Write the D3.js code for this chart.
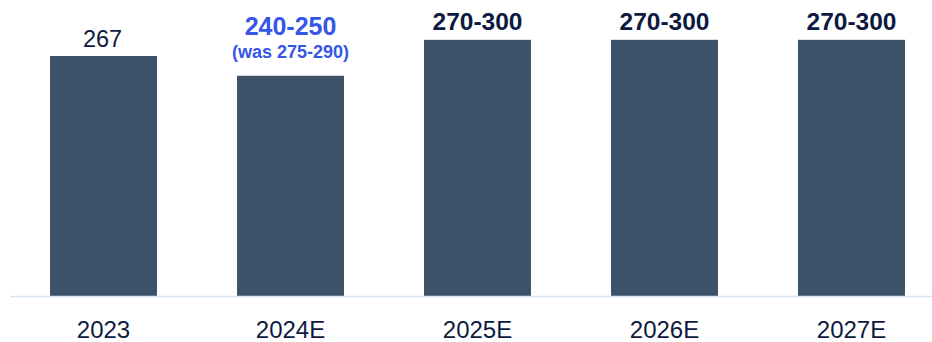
<!DOCTYPE html>
<html>
<head>
<meta charset="utf-8">
<script src="https://cdn.jsdelivr.net/npm/d3@7"></script>
<style>
  html, body { margin: 0; padding: 0; background: #ffffff; }
  svg { display: block; }
</style>
</head>
<body>
<svg id="chart" width="932" height="342"></svg>
<script>
// Annual figures: actual for 2023, estimate ranges afterwards
const categories = ["2023", "2024E", "2025E", "2026E", "2027E"];
const lowValues  = [267, 240, 270, 270, 270];
const highValues = [267, 250, 300, 300, 300];
const valueLabels = ["267", "240-250", "270-300", "270-300", "270-300"];
const noteLabels  = ["", "(was 275-290)", "", "", ""];
const highlighted = [false, true, false, false, false];

// bar height uses the midpoint of each range
const barValues = lowValues.map((lo, i) => (lo + highValues[i]) / 2);

const width = 932, height = 342;
const baseY = 296;

const svg = d3.select("#chart");

const x = d3.scaleBand()
  .domain(categories)
  .range([10, 945])
  .paddingInner(0.428)
  .paddingOuter(0.214);

const y = d3.scaleLinear()
  .domain([0, 329.3])
  .range([baseY, 0]);

const navy = "#0d1a3f";
const blue = "#3556e6";
const barColor = "#3d5269";
const font = "'Liberation Sans', Arial, sans-serif";

// bars
svg.append("g")
  .selectAll("rect")
  .data(categories)
  .join("rect")
  .attr("x", d => x(d))
  .attr("width", x.bandwidth())
  .attr("y", (d, i) => y(barValues[i]))
  .attr("height", (d, i) => baseY - y(barValues[i]))
  .attr("fill", barColor);

// baseline
svg.append("line")
  .attr("x1", 10).attr("x2", width)
  .attr("y1", baseY + 0.5).attr("y2", baseY + 0.5)
  .attr("stroke", "#d6e4f1")
  .attr("stroke-width", 1.5);

// category axis
const xAxis = d3.axisBottom(x).tickSize(0).tickPadding(0);
const axisG = svg.append("g")
  .attr("transform", `translate(0,${baseY})`)
  .call(xAxis);
axisG.select(".domain").remove();
axisG.selectAll("text")
  .attr("dy", null)
  .attr("y", 42)
  .attr("font-family", font)
  .attr("font-size", 24)
  .attr("fill", navy);

// value labels
const labels = svg.append("g").attr("text-anchor", "middle").attr("font-family", font);
categories.forEach((c, i) => {
  const cx = x(c) + x.bandwidth() / 2;
  const top = y(barValues[i]);
  if (i === 0) {
    labels.append("text")
      .attr("x", cx - 1).attr("y", top - 9.5)
      .attr("font-size", 23.5)
      .attr("fill", navy)
      .text(valueLabels[i]);
  } else if (highlighted[i]) {
    labels.append("text")
      .attr("x", cx).attr("y", top - 41)
      .attr("font-size", 25)
      .attr("font-weight", "bold")
      .attr("fill", blue)
      .text(valueLabels[i]);
    labels.append("text")
      .attr("x", cx).attr("y", top - 18)
      .attr("font-size", 18)
      .attr("font-weight", "bold")
      .attr("fill", blue)
      .text(noteLabels[i]);
  } else {
    labels.append("text")
      .attr("x", cx).attr("y", top - 10)
      .attr("font-size", 24.5)
      .attr("font-weight", "bold")
      .attr("fill", navy)
      .text(valueLabels[i]);
  }
});
</script>
</body>
</html>
